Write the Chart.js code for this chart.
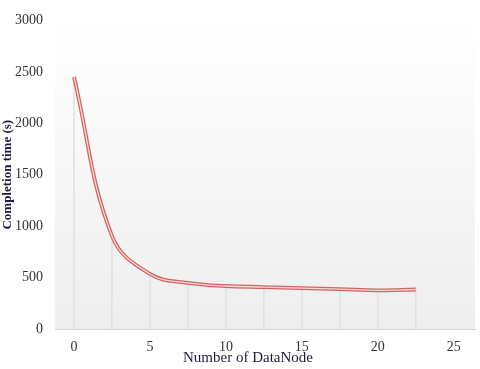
<!DOCTYPE html>
<html>
<head>
<meta charset="utf-8">
<script src="https://cdn.jsdelivr.net/npm/chart.js@4/dist/chart.umd.min.js"></script>
<style>
  html, body { margin: 0; padding: 0; background: #fff; }
  #wrap { width: 480px; height: 369px; position: relative; }
</style>
</head>
<body>
<div id="wrap"><canvas id="c"></canvas></div>
<script>
// number of DataNodes and completion time (s)
const nodes = [0, 2.5, 5, 7.5, 10, 12.5, 15, 17.5, 20, 22.5];
const times = [2450, 905, 535, 448, 418, 408, 398, 388, 376, 384];
const xTicks = [0, 5, 10, 15, 20, 25];
const yTicks = [0, 500, 1000, 1500, 2000, 2500, 3000];

const pts = nodes.map((n, i) => ({ x: n, y: times[i] }));
const serif = '"Liberation Serif", "Times New Roman", serif';

// light gray gradient behind the plot area
const bgPlugin = {
  id: 'bg',
  beforeDraw(chart) {
    const { ctx, chartArea: a } = chart;
    const g = ctx.createLinearGradient(0, a.top, 0, a.bottom);
    g.addColorStop(0, '#ffffff');
    g.addColorStop(1, '#eeeeee');
    ctx.save();
    ctx.fillStyle = g;
    ctx.fillRect(a.left, a.top, a.right - a.left, a.bottom - a.top);
    ctx.restore();
  }
};

// x title sits a bit left of centre and close to the tick labels
const xTitlePlugin = {
  id: 'xtitle',
  afterDraw(chart) {
    const { ctx, chartArea: a } = chart;
    ctx.save();
    ctx.font = '15px ' + serif;
    ctx.fillStyle = '#1c1c3a';
    ctx.textAlign = 'center';
    ctx.textBaseline = 'middle';
    ctx.fillText('Number of DataNode', (a.left + a.right) / 2 - 17, 358);
    ctx.restore();
  }
};

new Chart(document.getElementById('c'), {
  type: 'line',
  data: {
    datasets: [
      {
        // inner light stroke of the double line
        data: pts,
        borderColor: '#f6d8d8',
        borderWidth: 1.3,
        pointRadius: 0,
        tension: 0.4,
        order: 1
      },
      {
        data: pts,
        borderColor: '#d06462',
        borderWidth: 3.8,
        pointRadius: 0,
        tension: 0.4,
        order: 2
      },
      {
        // drop lines
        type: 'bar',
        data: pts,
        backgroundColor: '#e2e2e2',
        barThickness: 1,
        order: 3
      }
    ]
  },
  options: {
    responsive: true,
    maintainAspectRatio: false,
    animation: false,
    layout: { padding: { top: 9, right: 5, left: 0, bottom: 0 } },
    plugins: { legend: { display: false }, tooltip: { enabled: false } },
    scales: {
      x: {
        type: 'linear',
        min: -1.25,
        max: 26.4,
        offset: false,
        afterBuildTicks: s => { s.ticks = xTicks.map(v => ({ value: v })); },
        afterFit: s => { s.height = 40; },
        grid: { display: false, drawTicks: false },
        border: { display: true, color: '#d6d6d6', width: 1 },
        ticks: {
          font: { family: serif, size: 14 }, color: '#333', padding: 10, maxRotation: 0,
          callback: v => String(v)
        }
      },
      y: {
        min: 0,
        max: 3000,
        afterBuildTicks: s => { s.ticks = yTicks.map(v => ({ value: v })); },
        afterFit: s => { s.width = 55; },
        grid: { display: false, drawTicks: false },
        border: { display: false },
        ticks: {
          font: { family: serif, size: 14 }, color: '#333', padding: 12,
          callback: v => String(v)
        },
        title: {
          display: true,
          text: 'Completion time (s)',
          font: { family: serif, size: 13, weight: 'bold' },
          color: '#1c1c3a',
          padding: { top: 0, bottom: 0 }
        }
      }
    }
  },
  plugins: [bgPlugin, xTitlePlugin]
});
</script>
</body>
</html>
